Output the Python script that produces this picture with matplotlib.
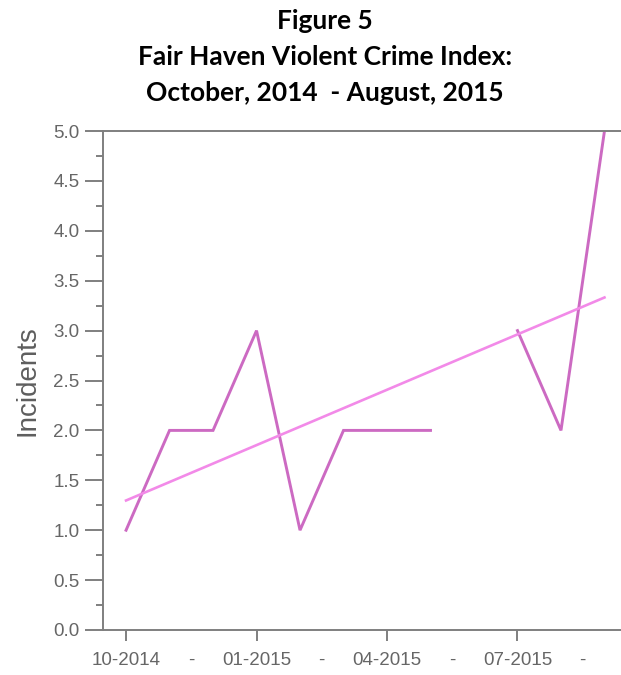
import numpy as np
import matplotlib

matplotlib.use("Agg")
import matplotlib.pyplot as plt
from matplotlib.ticker import FixedLocator, MultipleLocator

# monthly incident counts, 10-2014 .. 09-2015 (06-2015 missing)
months = ["10-2014", "11-2014", "12-2014", "01-2015", "02-2015", "03-2015",
          "04-2015", "05-2015", "06-2015", "07-2015", "08-2015", "09-2015"]
incidents = [1, 2, 2, 3, 1, 2, 2, 2, np.nan, 3, 2, 5]
major_labels = ["10-2014", "01-2015", "04-2015", "07-2015"]
minor_labels = ["-", "-", "-", "-"]

title_lines = ["Figure 5", "Fair Haven Violent Crime Index:", "October, 2014  - August, 2015"]

x = np.arange(len(months))
y = np.array(incidents, dtype=float)
ok = ~np.isnan(y)
slope, icpt = np.polyfit(x[ok], y[ok], 1)
trend_x = np.array([x[0], x[-1]])

grey = "#7f7f7f"
text_grey = "#666666"

fig = plt.figure(figsize=(6.21, 6.75), dpi=100)
ax = fig.add_axes([103 / 621, 1 - 630 / 675, 1 - 103 / 621, (630 - 131) / 675])

ax.plot(x, y, color="#cc6ac2", lw=2.1, solid_joinstyle="miter")
ax.plot(trend_x, slope * trend_x + icpt, color="#f28ae8", lw=1.9)

ax.set_xlim(-0.53, 11.38)
ax.set_ylim(0, 5)

ax.yaxis.set_major_locator(MultipleLocator(0.5))
ax.yaxis.set_minor_locator(MultipleLocator(0.25))
ax.set_yticklabels([f"{v:.1f}" for v in ax.get_yticks()])

major_pos = [x[months.index(m)] for m in major_labels]
ax.xaxis.set_major_locator(FixedLocator(major_pos))
ax.set_xticklabels(major_labels)
ax.xaxis.set_minor_locator(FixedLocator([p + 1.5 for p in major_pos]))
ax.set_xticklabels(minor_labels, minor=True)

for side in ("left", "bottom", "top"):
    ax.spines[side].set_color(grey)
    ax.spines[side].set_linewidth(1.4)
ax.spines["right"].set_visible(False)

ax.tick_params(axis="y", which="major", length=13, width=1.4, color=grey,
               labelcolor=text_grey, labelsize=13.5, pad=4)
ax.tick_params(axis="y", which="minor", length=5, width=1.4, color=grey)
ax.tick_params(axis="x", which="major", length=8, width=1.4, color=grey,
               labelcolor=text_grey, labelsize=13.5, pad=8)
ax.tick_params(axis="x", which="minor", length=0, labelcolor=text_grey,
               labelsize=13.5, pad=16)
for lab in ax.get_xticklabels() + ax.get_yticklabels() + ax.get_xticklabels(minor=True):
    lab.set_family("Liberation Sans")

ax.set_ylabel("Incidents", fontsize=20, color="#5e5e5e", family="Liberation Sans", labelpad=9)

for i, line in enumerate(title_lines):
    fig.text(0.523, 1 - (21 + 36 * i) / 675, line, ha="center", va="center",
             fontsize=19, fontweight="bold", family="Lato")

fig.savefig("out.png", dpi=100)
